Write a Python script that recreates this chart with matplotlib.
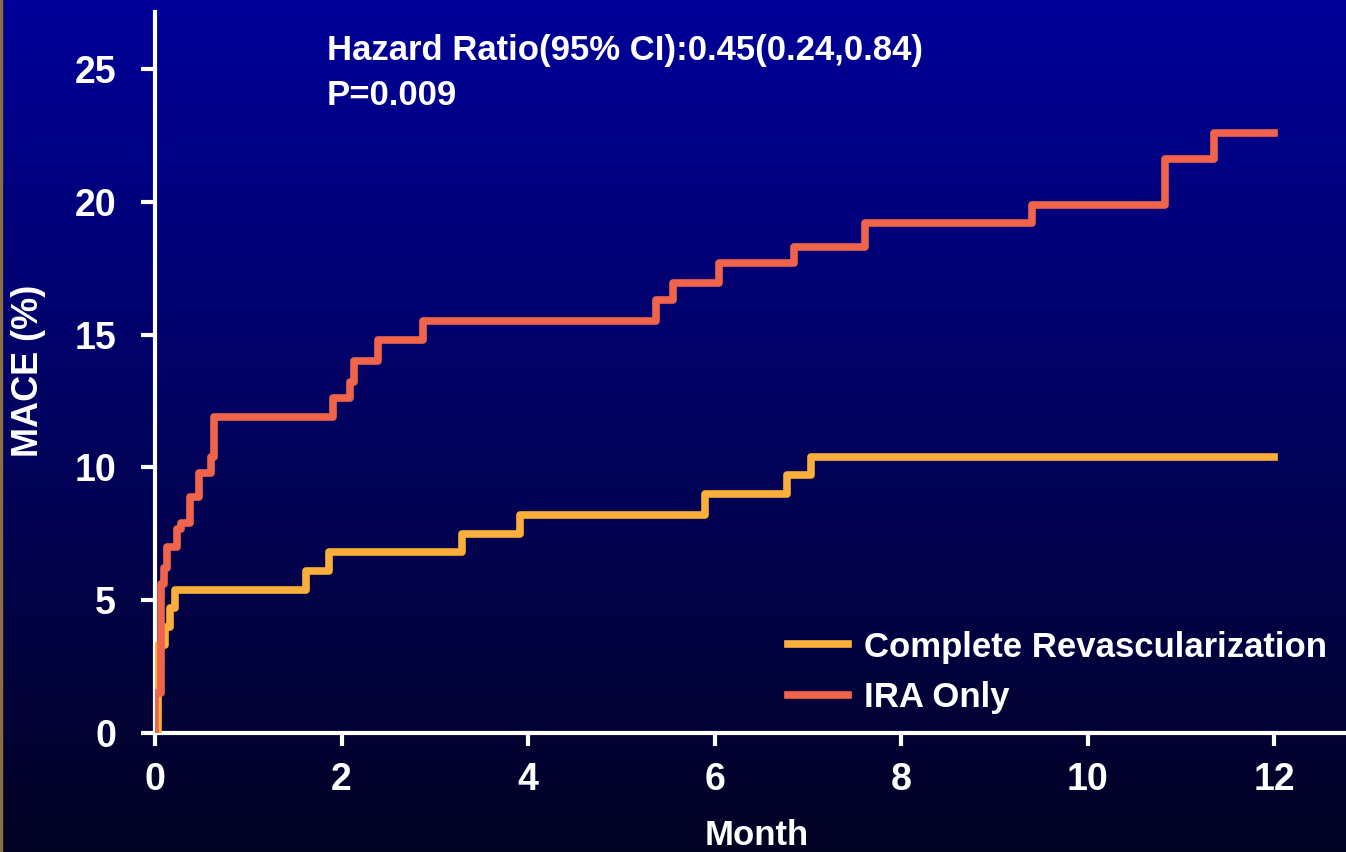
#!/usr/bin/env python3
"""Cumulative MACE by treatment arm: complete revascularization vs IRA only."""

import matplotlib

matplotlib.use("Agg")
import matplotlib.pyplot as plt  # noqa: E402
import numpy as np  # noqa: E402
from matplotlib.patches import Rectangle  # noqa: E402

# step curves (month, cumulative MACE %)
complete_months = [0, 0.03, 0.11, 0.16, 0.21, 1.62, 1.87, 3.29, 3.91, 5.90, 6.78, 7.03, 12.0]
complete_mace = [0, 3.3, 4.0, 4.7, 5.4, 6.1, 6.8, 7.5, 8.2, 9.0, 9.7, 10.4, 10.4]

ira_months = [0, 0.005, 0.06, 0.10, 0.13, 0.24, 0.28, 0.38, 0.47, 0.60, 0.63,
              1.91, 2.09, 2.13, 2.39, 2.87, 5.37, 5.55, 6.05, 6.85, 7.61,
              9.40, 10.83, 11.36, 12.0]
ira_mace = [0, 1.5, 5.6, 6.2, 7.0, 7.7, 7.9, 8.9, 9.8, 10.4, 11.9,
            12.6, 13.2, 14.0, 14.8, 15.5, 16.3, 16.95, 17.7, 18.3, 19.2,
            19.9, 21.6, 22.6, 22.6]

x_ticks = [0, 2, 4, 6, 8, 10, 12]
y_ticks = [0, 5, 10, 15, 20, 25]
series_labels = ["Complete Revascularization", "IRA Only"]

ORANGE = "#FAAF3C"
RED = "#F0644B"
FONT = "Liberation Sans"

plt.rcParams["font.family"] = [FONT, "DejaVu Sans"]
plt.rcParams["font.weight"] = "bold"

fig = plt.figure(figsize=(13.46, 8.52), dpi=100)

# dark blue vertical gradient background
bg = fig.add_axes([0, 0, 1, 1], zorder=-10)
top = np.array([0.0, 0.0, 0.60])
bottom = np.array([0.01, 0.01, 0.14])
t = np.linspace(0, 1, 256)[:, None]
grad = top * (1 - t) + bottom * t
bg.imshow(grad[:, None, :].repeat(2, axis=1), aspect="auto", extent=[0, 1, 0, 1])
bg.set_axis_off()
fig.patches.append(Rectangle((0, 0), 2 / 1346, 1, transform=fig.transFigure,
                             color="#8a7040", zorder=5))

ax = fig.add_axes([155 / 1346, 1 - 733 / 852, 1 - 155 / 1346, (733 - 12) / 852])
ax.set_facecolor("none")

ax.step(complete_months, complete_mace, where="post", color=ORANGE,
        linewidth=5.5, solid_joinstyle="round", label=series_labels[0], zorder=3)
ax.step(ira_months, ira_mace, where="post", color=RED,
        linewidth=5.5, solid_joinstyle="round", label=series_labels[1], zorder=4)

ax.set_xlim(0, 12.77)
ax.set_ylim(0, 27.15)
ax.set_xticks(x_ticks)
ax.set_yticks(y_ticks)
for side in ("top", "right"):
    ax.spines[side].set_visible(False)
for side in ("left", "bottom"):
    ax.spines[side].set_color("white")
    ax.spines[side].set_linewidth(3)
ax.tick_params(axis="y", colors="white", length=10, width=3, pad=18,
               labelsize=27, direction="out")
ax.tick_params(axis="x", colors="white", length=9, width=3, pad=12,
               labelsize=27, direction="out")
for label in ax.get_xticklabels() + ax.get_yticklabels():
    label.set_fontweight("bold")

legend = ax.legend(loc="lower right", bbox_to_anchor=(1.0, 0.0), frameon=False,
                   fontsize=25, handlelength=1.75, handletextpad=0.45,
                   labelspacing=0.5, borderaxespad=0.15)
for text in legend.get_texts():
    text.set_color("white")
    text.set_fontweight("bold")
for line in legend.get_lines():
    line.set_linewidth(5.5)

fig.text(327 / 1346, 1 - 60 / 852, "Hazard Ratio(95% CI):0.45(0.24,0.84)",
         color="white", fontsize=25, fontweight="bold", va="baseline", ha="left")
fig.text(327 / 1346, 1 - 105 / 852, "P=0.009",
         color="white", fontsize=25, fontweight="bold", va="baseline", ha="left")
fig.text(29 / 1346, 1 - 371 / 852, "MACE (%)", color="white", fontsize=26,
         fontweight="bold", rotation=90, ha="center", va="center")
fig.text(757 / 1346, 1 - 845 / 852, "Month", color="white", fontsize=25,
         fontweight="bold", ha="center", va="baseline")

fig.savefig("out.png", dpi=100)
